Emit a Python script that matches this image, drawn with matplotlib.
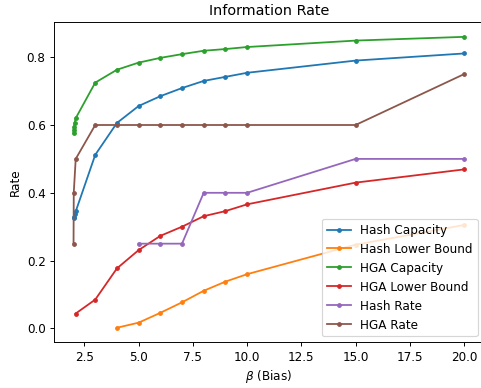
import matplotlib.pyplot as plt

# beta values and rates for each scheme
beta_hash_cap = [2.0, 2.01, 2.05, 2.1, 3, 4, 5, 6, 7, 8, 9, 10, 15, 20]
hash_capacity = [0.325, 0.33, 0.338, 0.345, 0.512, 0.606, 0.656, 0.685,
                 0.709, 0.730, 0.742, 0.754, 0.790, 0.811]

beta_hash_lb = [4, 5, 6, 7, 8, 9, 10, 15, 20]
hash_lower_bound = [0.002, 0.017, 0.046, 0.077, 0.111, 0.138, 0.160, 0.247, 0.305]

beta_hga_cap = [2.0, 2.01, 2.02, 2.05, 2.1, 3, 4, 5, 6, 7, 8, 9, 10, 15, 20]
hga_capacity = [0.575, 0.585, 0.595, 0.607, 0.620, 0.725, 0.763, 0.784, 0.798,
                0.809, 0.819, 0.824, 0.830, 0.849, 0.860]

beta_hga_lb = [2.1, 3, 4, 5, 6, 7, 8, 9, 10, 15, 20]
hga_lower_bound = [0.044, 0.085, 0.177, 0.231, 0.273, 0.300, 0.331, 0.346,
                   0.366, 0.430, 0.469]

beta_hash_rate = [5, 6, 7, 8, 9, 10, 15, 20]
hash_rate = [0.25, 0.25, 0.25, 0.4, 0.4, 0.4, 0.5, 0.5]

beta_hga_rate = [2.0, 2.01, 2.1, 3, 4, 5, 6, 7, 8, 9, 10, 15, 20]
hga_rate = [0.25, 0.4, 0.5, 0.6, 0.6, 0.6, 0.6, 0.6, 0.6, 0.6, 0.6, 0.6, 0.75]

DPI = 86


def main():
    fig = plt.figure(figsize=(481 / DPI, 388 / DPI), dpi=DPI)
    ax = fig.add_axes([0.1123, 0.1178, 0.893, 0.8247])

    ax.plot(beta_hash_cap, hash_capacity, marker='.', label='Hash Capacity')
    ax.plot(beta_hash_lb, hash_lower_bound, marker='.', label='Hash Lower Bound')
    ax.plot(beta_hga_cap, hga_capacity, marker='.', label='HGA Capacity')
    ax.plot(beta_hga_lb, hga_lower_bound, marker='.', label='HGA Lower Bound')
    ax.plot(beta_hash_rate, hash_rate, marker='.', label='Hash Rate')
    ax.plot(beta_hga_rate, hga_rate, marker='.', label='HGA Rate')

    ax.set_title('Information Rate')
    ax.set_xlabel(r'$\beta$ (Bias)')
    ax.set_ylabel('Rate')
    ax.set_xticks([2.5, 5.0, 7.5, 10.0, 12.5, 15.0, 17.5, 20.0])
    ax.legend(loc='lower right')

    fig.savefig('out.png', dpi=DPI)


if __name__ == "__main__":
    main()
